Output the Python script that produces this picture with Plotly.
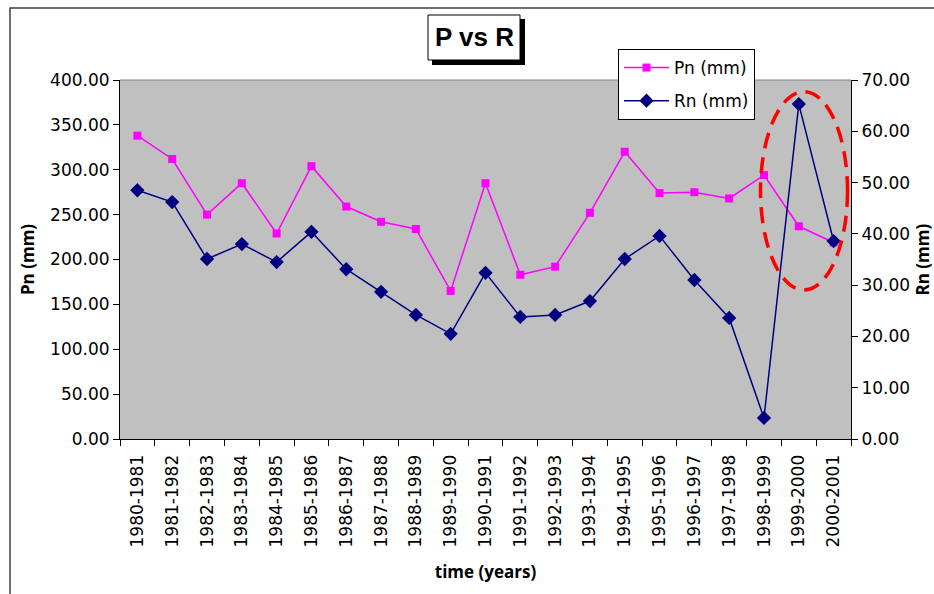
import plotly.graph_objects as go

years = ["1980-1981", "1981-1982", "1982-1983", "1983-1984", "1984-1985", "1985-1986",
         "1986-1987", "1987-1988", "1988-1989", "1989-1990", "1990-1991", "1991-1992",
         "1992-1993", "1993-1994", "1994-1995", "1995-1996", "1996-1997", "1997-1998",
         "1998-1999", "1999-2000", "2000-2001"]
pn = [338, 312, 250, 285, 229, 304, 259, 242, 234, 165, 285, 183,
      192, 252, 320, 274, 275, 268, 294, 237, 219]
rn = [48.5, 46.2, 35.1, 38.0, 34.5, 40.4, 33.1, 28.7, 24.2, 20.5, 32.4, 23.8,
      24.2, 26.9, 35.1, 39.6, 31.0, 23.6, 4.1, 65.3, 38.6]

FONT = "DejaVu Sans"
TFONT = "Open Sans"

fig = go.Figure()
fig.add_trace(go.Scatter(x=years, y=pn, name="Pn (mm)", mode="lines+markers",
                         legendgroup="a",
                         line=dict(color="#FF00FF", width=1.5),
                         marker=dict(symbol="square", size=8, color="#FF00FF")))
fig.add_trace(go.Scatter(x=years, y=rn, name="Rn (mm)", mode="lines+markers", yaxis="y2",
                         legendgroup="b",
                         line=dict(color="#000080", width=1.5),
                         marker=dict(symbol="diamond", size=11, color="#000080")))

def px2x(px):
    return (px - 120) / 731.0

def py2y(py):
    return (439 - py) / 359.0

shapes = [
    # outer chart frame
    dict(type="rect", xref="paper", yref="paper", x0=px2x(10), x1=px2x(1000),
         y0=py2y(700), y1=py2y(8), line=dict(color="#404040", width=1.5)),
    # plot area border (top gray)
    dict(type="line", xref="paper", yref="paper", x0=0, x1=1, y0=1, y1=1,
         line=dict(color="#808080", width=1)),
    # title box shadow
    dict(type="rect", xref="paper", yref="paper", x0=px2x(432), x1=px2x(525),
         y0=py2y(65), y1=py2y(19), fillcolor="black", line=dict(width=0)),
    # title box
    dict(type="rect", xref="paper", yref="paper", x0=px2x(428), x1=px2x(520),
         y0=py2y(60), y1=py2y(15), fillcolor="white", line=dict(color="black", width=1)),
    # highlight ellipse
    dict(type="circle", xref="x", yref="y", x0=17.9, x1=20.4, y0=166, y1=387,
         line=dict(color="#FF0000", width=3.5, dash="16px,9px")),
]

fig.update_layout(
    width=934, height=594,
    margin=dict(l=120, r=83, t=80, b=155),
    paper_bgcolor="white", plot_bgcolor="#C0C0C0",
    font=dict(family=FONT, size=17, color="black"),
    showlegend=True,
    legend=dict(x=px2x(618), y=py2y(49), xanchor="left", yanchor="top",
                bgcolor="white", bordercolor="black", borderwidth=1,
                itemwidth=45, tracegroupgap=8,
                font=dict(family=FONT, size=17)),
    xaxis=dict(type="category", range=[-0.5, 20.5], tickangle=-90, automargin=False,
               ticks="outside", tickson="boundaries", ticklen=6, tickcolor="black",
               ticklabelstandoff=8,
               showline=True, linecolor="black", linewidth=1, showgrid=False,
               tickfont=dict(family=FONT, size=17),
               title=dict(text="<b>time (years)</b>", font=dict(family=TFONT, size=17), standoff=19)),
    yaxis=dict(range=[0, 400], dtick=50, tickformat=".2f", ticks="outside", ticklen=6,
               automargin=False,
               tickcolor="black", showline=True, linecolor="black", linewidth=1,
               showgrid=False, zeroline=False, tickfont=dict(family=FONT, size=17),
               title=dict(text="<b>Pn (mm)</b>", font=dict(family=TFONT, size=17), standoff=11)),
    yaxis2=dict(range=[0, 70], dtick=10, tickformat=".2f", overlaying="y", side="right",
                automargin=False,
                ticks="outside", ticklen=6, tickcolor="black", showline=True,
                linecolor="black", linewidth=1, showgrid=False, zeroline=False,
                tickfont=dict(family=FONT, size=17)),
    shapes=shapes,
    annotations=[
        dict(text="<b>P vs R</b>", xref="paper", yref="paper",
             x=px2x(474), y=py2y(37), xanchor="center", yanchor="middle",
             showarrow=False,
             font=dict(family="Liberation Sans Narrow, Liberation Sans", size=26)),
        dict(text="<b>Rn (mm)</b>", xref="paper", yref="paper",
             x=px2x(922), y=0.5, xanchor="center", yanchor="middle", textangle=-90,
             showarrow=False, font=dict(family=TFONT, size=17)),
    ],
)

fig.write_html("out.html", config={"displayModeBar": False},
               post_script="document.body.style.margin='0px';")
